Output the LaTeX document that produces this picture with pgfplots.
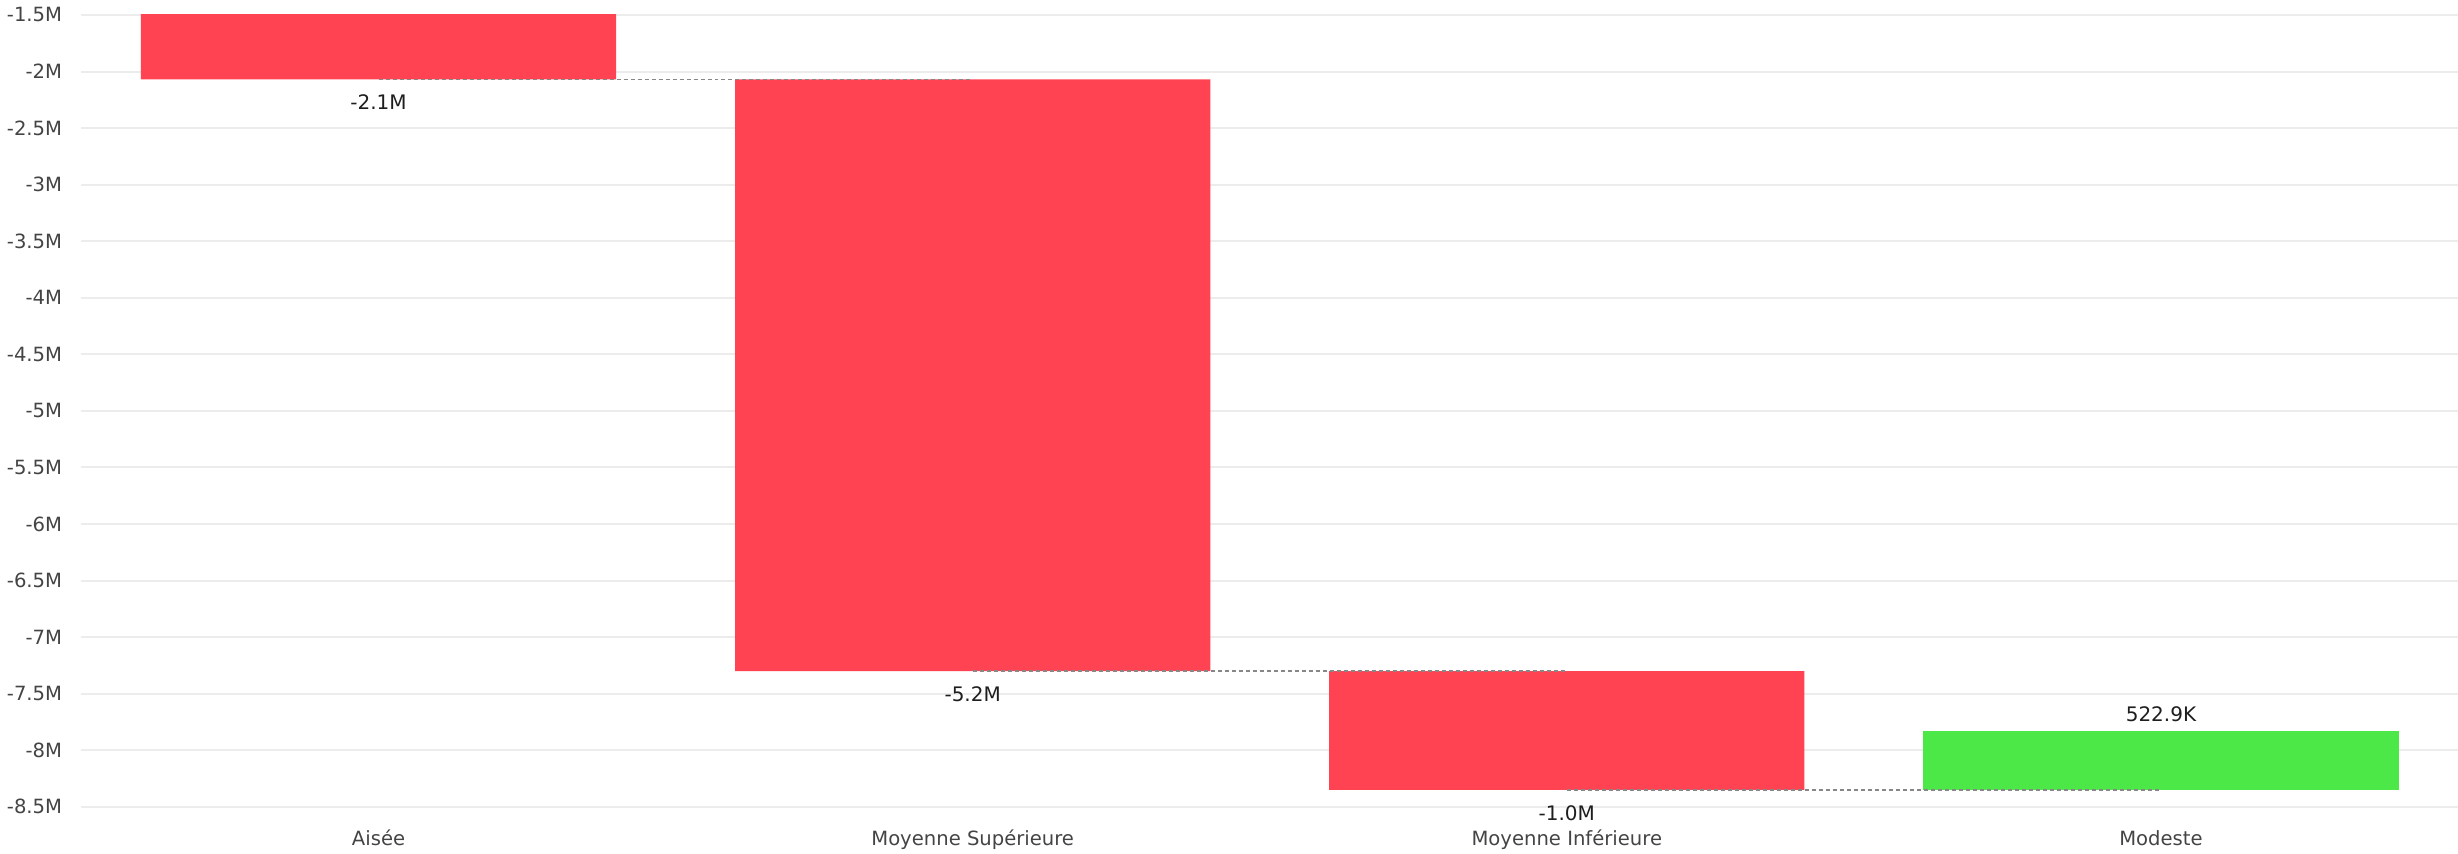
\documentclass[border=0pt]{standalone}
\usepackage{pgfplots}
\pgfplotsset{compat=1.18}
\usepackage{pgfplotstable}
\usepackage{fontspec}
\setmainfont{DejaVu Sans}

\definecolor{negred}{RGB}{255,67,82}
\definecolor{posgreen}{RGB}{75,232,71}
\definecolor{gridgray}{RGB}{236,236,236}
\definecolor{tickgray}{RGB}{68,68,68}
\definecolor{linkgray}{RGB}{135,135,135}
\definecolor{labelblack}{RGB}{30,30,30}

% waterfall steps (millions): invisible base, then the change
\pgfplotstableread{
x base pos neg
0 0 0 -2.07
1 -2.07 0 -5.23
2 -7.30 0 -1.05
3 -8.35 0.5229 0
}\steps

% dashed links between bar ends
\pgfplotstableread{
x y
0 -2.07
1 -2.07
nan nan
1 -7.30
2 -7.30
nan nan
2 -8.35
3 -8.35
}\links

\pgfplotstableread{
x y lab
0 -2.07 -2.1M
1 -7.30 -5.2M
2 -8.35 -1.0M
}\neglabels

\pgfplotstableread{
x y lab
3 -7.827 522.9K
}\poslabels

\pgfplotsset{
  wf/.style={
    width=1188.5pt, height=396pt, scale only axis,
    xmin=-0.5, xmax=3.5, ymin=-8.5, ymax=-1.5,
  },
}

\begin{document}
\begin{tikzpicture}
\begin{axis}[wf, name=ax,
  ybar stacked, stack negative=on previous, bar width=0.8,
  axis line style={draw=none}, tick style={draw=none}, major tick length=0pt,
  ymajorgrids, grid style={gridgray, line width=1pt},
  xtick={0,1,2,3},
  xticklabels={Aisée,Moyenne Supérieure,Moyenne Inférieure,Modeste},
  ytick={-8.5,-8,-7.5,-7,-6.5,-6,-5.5,-5,-4.5,-4,-3.5,-3,-2.5,-2,-1.5},
  yticklabels={-8.5M,-8M,-7.5M,-7M,-6.5M,-6M,-5.5M,-5M,-4.5M,-4M,-3.5M,-3M,-2.5M,-2M,-1.5M},
  tick label style={font=\fontsize{9.8}{11}\selectfont, text=tickgray, inner sep=0pt},
  yticklabel style={xshift=-9.5pt},
  xticklabel style={yshift=-11.5pt},
]
  \addplot[draw=none, fill=none] table[x=x, y=base]{\steps};
  \addplot[draw=none, fill=posgreen] table[x=x, y=pos]{\steps};
  \addplot[draw=none, fill=negred] table[x=x, y=neg]{\steps};
\end{axis}

\begin{axis}[wf, hide axis, clip=false]
  \addplot[linkgray, line width=0.7pt, dash pattern=on 2pt off 1.5pt, unbounded coords=jump]
    table[x=x, y=y]{\links};
  \addplot[draw=none, nodes near coords, point meta=explicit symbolic,
    every node near coord/.append style={anchor=north, inner sep=0pt, yshift=-7.5pt,
      font=\fontsize{10}{12}\selectfont, text=labelblack}]
    table[x=x, y=y, meta=lab]{\neglabels};
  \addplot[draw=none, nodes near coords, point meta=explicit symbolic,
    every node near coord/.append style={anchor=south, inner sep=0pt, yshift=4.5pt,
      font=\fontsize{10}{12}\selectfont, text=labelblack}]
    table[x=x, y=y, meta=lab]{\poslabels};
\end{axis}

\pgfresetboundingbox
\path (ax.south west) ++(-40.75pt,-23.5pt) rectangle ([yshift=7.5pt]ax.north east);
\end{tikzpicture}
\end{document}
